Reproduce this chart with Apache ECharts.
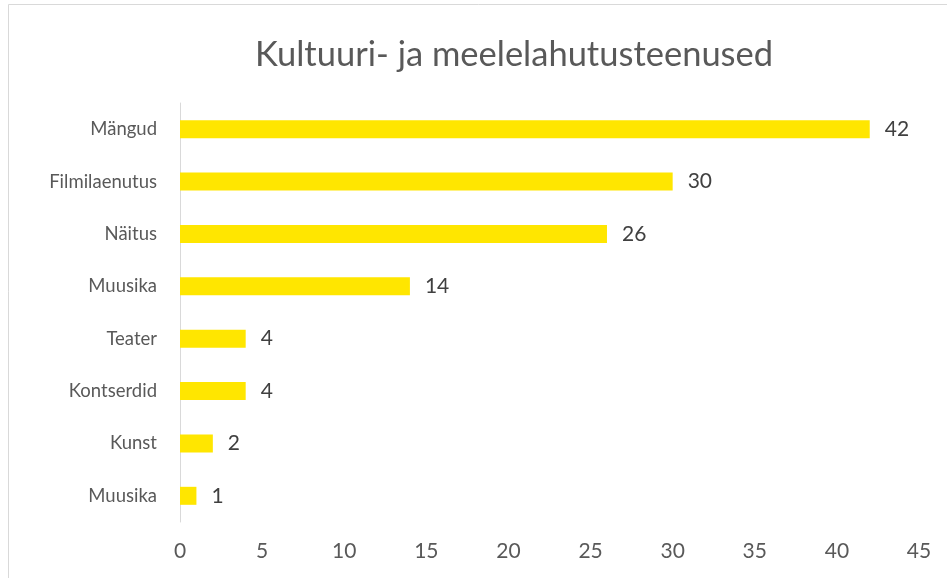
<!DOCTYPE html>
<html>
<head>
<meta charset="utf-8">
<script src="https://cdn.jsdelivr.net/npm/echarts@6/dist/echarts.min.js"></script>
<style>
  html, body { margin: 0; padding: 0; background: #fff; }
  #chart { width: 947px; height: 578px; }
</style>
</head>
<body>
<div id="chart"></div>
<script>
// categories top to bottom
const categories = ['Mängud', 'Filmilaenutus', 'Näitus', 'Muusika', 'Teater', 'Kontserdid', 'Kunst', 'Muusika']
const counts = [42, 30, 26, 14, 4, 4, 2, 1]

const textColor = '#595959'
const fontFamily = 'Lato, "Open Sans", sans-serif'

const chart = echarts.init(document.getElementById('chart'))

chart.setOption({
  backgroundColor: '#fff',
  textStyle: { fontFamily: fontFamily },
  title: {
    text: 'Kultuuri- ja meelelahutusteenused',
    left: 250,
    top: 32,
    textStyle: { color: textColor, fontSize: 34.5, fontWeight: 'normal', fontFamily: fontFamily },
  },
  // chart area border (top + left edges visible in the crop)
  graphic: [
    {
      type: 'rect',
      shape: { x: 8.5, y: 4.5, width: 1200, height: 1200 },
      style: { fill: 'none', stroke: '#d9d9d9', lineWidth: 1 },
      silent: true,
    },
  ],
  grid: { left: 180, right: 28, top: 103, bottom: 56 },
  xAxis: {
    type: 'value',
    min: 0,
    max: 45,
    interval: 5,
    axisLine: { show: false },
    axisTick: { show: false },
    splitLine: { show: false },
    axisLabel: { color: textColor, fontSize: 21, margin: 19 },
  },
  yAxis: {
    type: 'category',
    data: categories,
    inverse: true,
    axisLine: { show: true, lineStyle: { color: '#d9d9d9', width: 1 } },
    axisTick: { show: false },
    axisLabel: { color: textColor, fontSize: 18.5, margin: 23 },
  },
  series: [
    {
      type: 'bar',
      data: counts,
      barWidth: 18,
      itemStyle: { color: '#FFE600' },
      label: {
        show: true,
        position: 'right',
        distance: 15,
        color: '#404040',
        fontSize: 21,
      },
    },
  ],
})
</script>
</body>
</html>
